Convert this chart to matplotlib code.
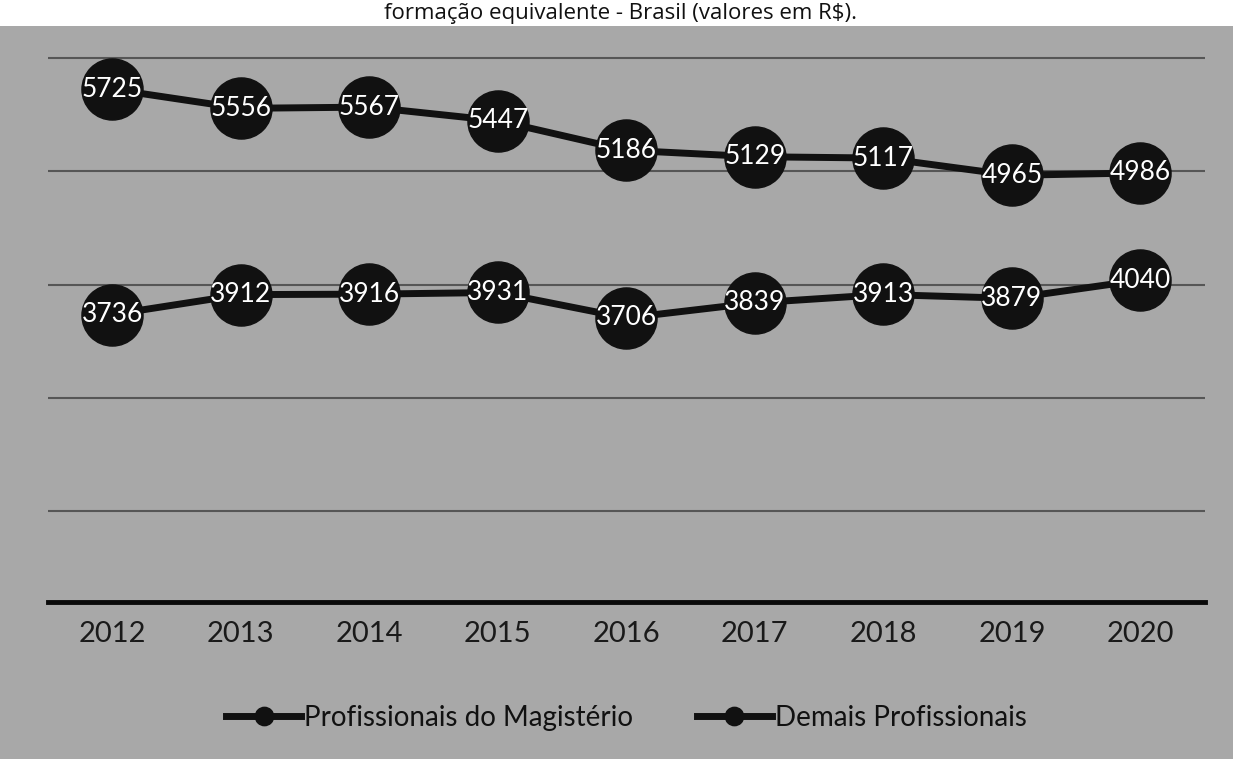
import matplotlib
matplotlib.use("Agg")
import matplotlib.pyplot as plt
from matplotlib.patches import Rectangle

anos = ["2012", "2013", "2014", "2015", "2016", "2017", "2018", "2019", "2020"]
magisterio = [5725, 5556, 5567, 5447, 5186, 5129, 5117, 4965, 4986]
demais = [3736, 3912, 3916, 3931, 3706, 3839, 3913, 3879, 4040]
titulo = "formação equivalente - Brasil (valores em R$)."

plt.rcParams["font.family"] = ["Lato", "DejaVu Sans"]

fig = plt.figure(figsize=(12.33, 7.59), dpi=100)
fig.patch.set_facecolor("#a8a8a8")
# white strip of the page above the scanned chart
fig.add_artist(Rectangle((0, 1 - 26 / 759), 1, 26 / 759, transform=fig.transFigure,
                         facecolor="white", edgecolor="none", zorder=0))
fig.text(0.503, 1 - 19 / 759, titulo, ha="center", va="baseline",
         fontsize=16, family=["Open Sans", "DejaVu Sans"], color="#111111")

ax = fig.add_axes([0.039, 0.207, 0.938, 0.724])
ax.set_facecolor("none")
x = list(range(len(anos)))

for serie, nome in [(magisterio, "Profissionais do Magistério"),
                    (demais, "Demais Profissionais")]:
    ax.plot(x, serie, color="#111111", linewidth=5, marker="o", markersize=44,
            markerfacecolor="#111111", markeredgecolor="#111111", label=nome, zorder=3)
    for xi, v in zip(x, serie):
        ax.text(xi, v, str(v), ha="center", va="center", color="white",
                fontsize=19, zorder=4)

ax.set_xlim(-0.5, len(anos) - 0.5)
ax.set_ylim(1200, 6050)
ax.set_yticks([2000, 3000, 4000, 5000, 6000])
ax.yaxis.grid(True, color="#333333", linewidth=1.5, alpha=0.7)
ax.tick_params(axis="y", left=False, labelleft=False)
ax.tick_params(axis="x", length=0, pad=14, labelsize=21, labelcolor="#1a1a1a")
ax.set_xticks(x)
ax.set_xticklabels(anos)
for s in ["top", "right", "left"]:
    ax.spines[s].set_visible(False)
ax.spines["bottom"].set_linewidth(3.5)
ax.spines["bottom"].set_color("#0a0a0a")
ax.set_axisbelow(True)

fig.legend(loc="center", bbox_to_anchor=(0.508, 1 - 718 / 759), ncol=2, frameon=False,
           fontsize=20, markerscale=0.3, handlelength=2.7, handletextpad=0.1,
           columnspacing=2.3, labelcolor="#111111")

fig.savefig("out.png", dpi=100, facecolor=fig.get_facecolor())
